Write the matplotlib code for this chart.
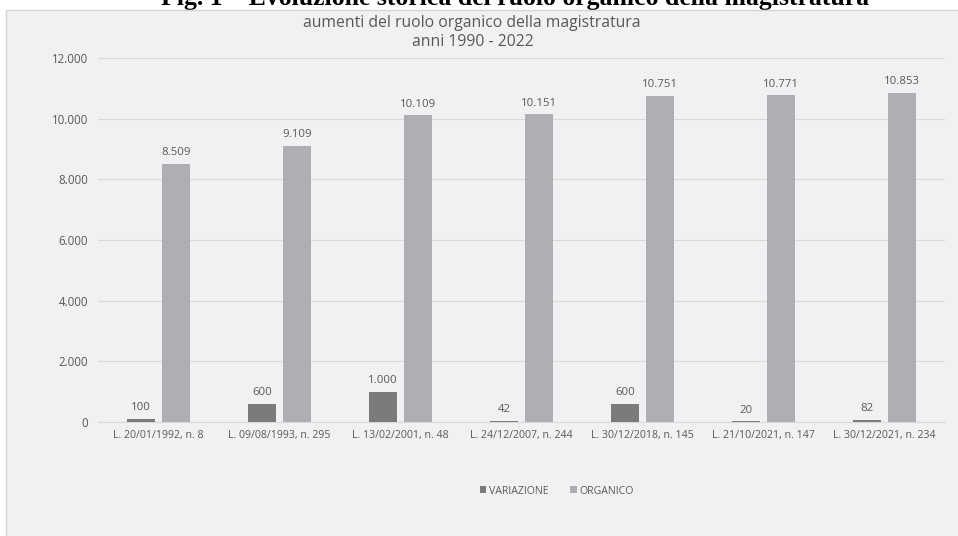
import matplotlib
matplotlib.use("Agg")
import matplotlib.pyplot as plt
from matplotlib.patches import Rectangle
from matplotlib.ticker import FuncFormatter
import numpy as np

categories = ["L. 20/01/1992, n. 8", "L. 09/08/1993, n. 295", "L. 13/02/2001, n. 48",
              "L. 24/12/2007, n. 244", "L. 30/12/2018, n. 145", "L. 21/10/2021, n. 147",
              "L. 30/12/2021, n. 234"]
variazione = [100, 600, 1000, 42, 600, 20, 82]
organico = [8509, 9109, 10109, 10151, 10751, 10771, 10853]
yticks = [0, 2000, 4000, 6000, 8000, 10000, 12000]

def it_fmt(v, pos=None):
    return f"{int(round(v)):,}".replace(",", ".")

W, H = 958, 536
fig = plt.figure(figsize=(W/100, H/100), dpi=100)
fig.patch.set_facecolor("white")
FONT = "Open Sans"
TXT = "#595959"

# panel background
panel = Rectangle((6/W, -0.01), 1 - 6/W + 0.01, 1 - 10/H + 0.01, transform=fig.transFigure,
                  facecolor="#f0f1f3", edgecolor="#d4d4d4", linewidth=1.0, zorder=-10)
fig.patches.append(panel)

fig.text(515/W, 1 - 5/H, "Fig. 1 – Evoluzione storica del ruolo organico della magistratura",
         ha="center", va="baseline", fontsize=18.5, fontweight="bold",
         family="Liberation Serif", color="black", zorder=-20)

fig.text(472/W, 1 - 23/H, "aumenti del ruolo organico della magistratura",
         ha="center", va="center", fontsize=11.3, family=FONT, color=TXT)
fig.text(473/W, 1 - 42/H, "anni 1990 - 2022",
         ha="center", va="center", fontsize=11.3, family=FONT, color=TXT)

ax = fig.add_axes([98/W, 1 - 422/H, (945-98)/W, (422-58)/H])
ax.set_facecolor("none")
ax.set_zorder(1)
x = np.arange(len(categories))
bw = 0.227
off = 0.143
c_var = "#7b7b7d"
c_org = "#aeafb2"
b1 = ax.bar(x - off, variazione, bw, color=c_var, label="VARIAZIONE", zorder=3)
b2 = ax.bar(x + off, organico, bw, color=c_org, label="ORGANICO", zorder=3)
for xi, v in zip(x - off, variazione):
    ax.annotate(it_fmt(v), (xi, v), xytext=(0, 4), textcoords="offset points",
                ha="center", va="bottom", fontsize=8.2, family=FONT, color=TXT)
for xi, v in zip(x + off, organico):
    ax.annotate(it_fmt(v), (xi, v), xytext=(0, 4), textcoords="offset points",
                ha="center", va="bottom", fontsize=8.2, family=FONT, color=TXT)

ax.set_xlim(-0.5, len(categories) - 0.5)
ax.set_ylim(0, 12000)
ax.set_yticks(yticks)
ax.yaxis.set_major_formatter(FuncFormatter(it_fmt))
ax.set_xticks(x)
ax.set_xticklabels(categories)
ax.grid(axis="y", color="#d9d9d9", linewidth=0.8, zorder=0)
for s in ["top", "right", "left"]:
    ax.spines[s].set_visible(False)
ax.spines["bottom"].set_color("#d9d9d9")
ax.tick_params(axis="both", length=0, labelcolor=TXT)
ax.tick_params(axis="y", pad=7, labelsize=8.3)
ax.tick_params(axis="x", pad=6, labelsize=7.6)
for lab in ax.get_xticklabels() + ax.get_yticklabels():
    lab.set_family(FONT)

leg = fig.legend(handles=[b1, b2], loc="center", bbox_to_anchor=(557/W, 1 - 491/H),
                 ncol=2, frameon=False, handlelength=0.6, handleheight=0.6,
                 columnspacing=2.0, handletextpad=0.3, prop={"family": FONT, "size": 7.6})
for t in leg.get_texts():
    t.set_color(TXT)

fig.savefig("out.png", dpi=100, facecolor="white")
